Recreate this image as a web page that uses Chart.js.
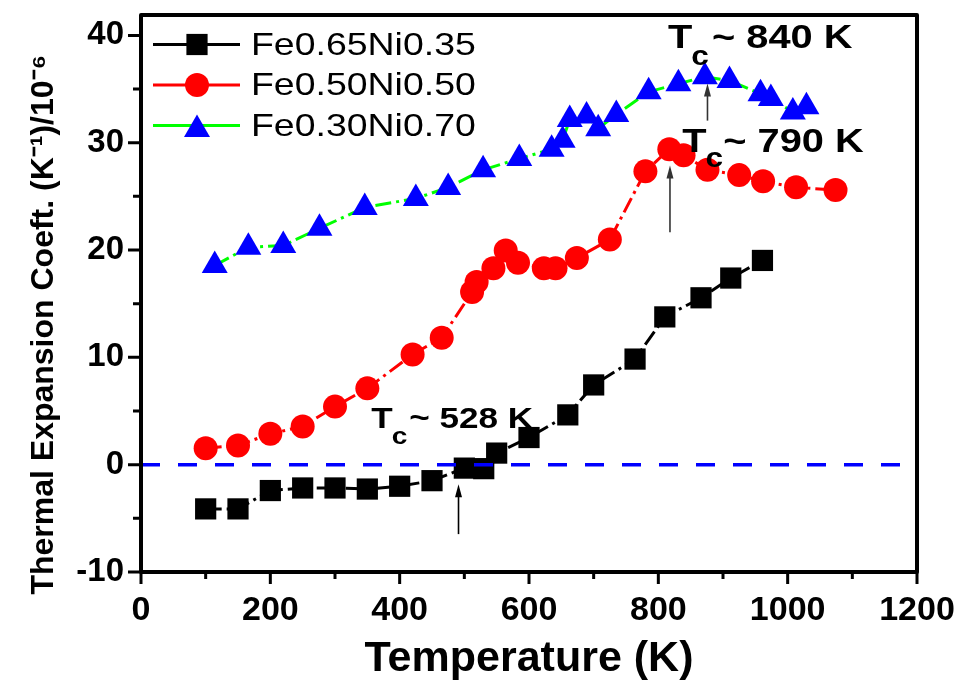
<!DOCTYPE html>
<html><head><meta charset="utf-8">
<script src="https://cdn.jsdelivr.net/npm/chart.js@4.4.1/dist/chart.umd.min.js"></script>
<style>html,body{margin:0;padding:0;background:#fff;}#wrap{width:962px;height:684px;}</style>
</head><body><div id="wrap"><canvas id="c" width="962" height="684"></canvas></div>
<script>
// ---- data ----
const seriesNames = ['Fe0.65Ni0.35', 'Fe0.50Ni0.50', 'Fe0.30Ni0.70'];
const tempA = [100,150,200,250,300,350,400,450,500,530,550,600,660,700,764,810,866,912,961];
const coefA = [-4.12,-4.12,-2.41,-2.17,-2.17,-2.27,-2.01,-1.49,-0.32,-0.37,1.08,2.53,4.64,7.43,9.84,13.77,15.55,17.39,19.03];
const tempB = [100,150,200,250,300,350,420,465,512,519,545,564,583,623,641,674,725,780,817,839,876,925,962,1013,1074];
const coefB = [1.54,1.79,2.88,3.56,5.41,7.11,10.27,11.82,16.09,17.02,18.31,19.96,18.81,18.31,18.31,19.25,20.98,27.33,29.40,28.84,27.48,26.98,26.40,25.84,25.59];
const tempC = [114,166,220,276,346,425,475,529,585,635,652,663,689,707,735,785,831,872,910,958,974,1008,1029];
const coefC = [18.56,20.26,20.42,22.02,23.97,24.81,25.83,27.47,28.52,29.39,30.22,32.17,32.49,31.31,32.64,34.74,35.49,36.14,35.79,34.56,34.12,32.86,33.35];
const zeroLineX = [0, 1200];
const zeroLineY = [0, 0];
const xTicks = [0,200,400,600,800,1000,1200];
const xMinorTicks = [100,300,500,700,900,1100];
const yTicks = [-10,0,10,20,30,40];
const yMinorTicks = [-5,5,15,25,35];
const tcNotes = ['528 K', '790 K', '840 K'];

// ---- annotation placement (data units) ----
const tcAnchor = [[356, 3.4], [837, 29.1], [815, 38.8]];
const arrowAnchor = [[491, -6.47, -1.83], [818, 21.66, 27.88], [876, 32.06, 35.52]];

const FONT = "'Liberation Sans', Arial, sans-serif";
const SX = 1.17;

function pts(xs, ys) { return xs.map((v, i) => ({x: v, y: ys[i]})); }

const colors = ['#000000', '#ff0000', '#0000ff'];
const lineColors = ['#000000', '#ff0000', '#00ff00'];
const styles = ['rect', 'circle', 'triangle'];
const radii = [15, 12, 15];
const dash = [16, 5, 3, 5];

function stretchText(ctx, t, x, y, font) {
  ctx.save();
  ctx.font = font;
  ctx.translate(x, y);
  ctx.scale(SX, 1);
  ctx.fillText(t, 0, 0);
  const w = ctx.measureText(t).width * SX;
  ctx.restore();
  return w;
}

function drawMarker(ctx, style, x, y, r, color) {
  ctx.save();
  ctx.fillStyle = color;
  ctx.beginPath();
  if (style === 'rect') {
    const s = Math.SQRT1_2 * r;
    ctx.rect(x - s, y - s, 2 * s, 2 * s);
  } else if (style === 'circle') {
    ctx.arc(x, y, r, 0, Math.PI * 2);
  } else {
    let rad = 0;
    ctx.moveTo(x + Math.sin(rad) * r, y - Math.cos(rad) * r);
    rad += 2 * Math.PI / 3;
    ctx.lineTo(x + Math.sin(rad) * r, y - Math.cos(rad) * r);
    rad += 2 * Math.PI / 3;
    ctx.lineTo(x + Math.sin(rad) * r, y - Math.cos(rad) * r);
    ctx.closePath();
  }
  ctx.fill();
  ctx.restore();
}

const decor = {
  id: 'decor',
  afterDraw(chart) {
    const {ctx, chartArea: a, scales: {x, y}} = chart;
    ctx.save();
    // frame
    ctx.strokeStyle = '#000';
    ctx.lineWidth = 4;
    ctx.lineJoin = 'round';
    ctx.strokeRect(a.left, a.top, a.right - a.left, a.bottom - a.top);
    // ticks
    ctx.lineWidth = 3;
    ctx.beginPath();
    yTicks.forEach(v => { const p = y.getPixelForValue(v); ctx.moveTo(a.left - 13, p); ctx.lineTo(a.left, p); });
    yMinorTicks.forEach(v => { const p = y.getPixelForValue(v); ctx.moveTo(a.left - 8, p); ctx.lineTo(a.left, p); });
    xTicks.forEach(v => { const p = x.getPixelForValue(v); ctx.moveTo(p, a.bottom); ctx.lineTo(p, a.bottom + 12); });
    xMinorTicks.forEach(v => { const p = x.getPixelForValue(v); ctx.moveTo(p, a.bottom); ctx.lineTo(p, a.bottom + 7); });
    ctx.stroke();

    // legend
    const rows = [a.top + 29.5, a.top + 70, a.top + 110.5];
    seriesNames.forEach((name, i) => {
      const ry = rows[i];
      ctx.strokeStyle = lineColors[i];
      ctx.lineWidth = 3;
      ctx.beginPath();
      ctx.moveTo(a.left + 12, ry); ctx.lineTo(a.left + 99, ry);
      ctx.stroke();
      drawMarker(ctx, styles[i], a.left + 56, i === 2 ? ry + 4 : ry, radii[i], colors[i]);
      ctx.fillStyle = '#000';
      ctx.textBaseline = 'alphabetic';
      ctx.textAlign = 'left';
      stretchText(ctx, name, a.left + 110, ry + 10, '32px ' + FONT);
    });

    // arrows
    arrowAnchor.forEach((ar, i) => {
      const px = x.getPixelForValue(ar[0]);
      const pb = y.getPixelForValue(ar[1]);
      const pt = y.getPixelForValue(ar[2]);
      const col = i === 0 ? '#000' : '#333';
      ctx.strokeStyle = col; ctx.fillStyle = col;
      ctx.lineWidth = 1.6;
      ctx.beginPath(); ctx.moveTo(px, pb); ctx.lineTo(px, pt + 10); ctx.stroke();
      ctx.beginPath(); ctx.moveTo(px, pt); ctx.lineTo(px - 3.5, pt + 13); ctx.lineTo(px + 3.5, pt + 13); ctx.closePath(); ctx.fill();
    });

    // Tc labels
    ctx.fillStyle = '#000';
    ctx.textBaseline = 'alphabetic';
    ctx.textAlign = 'left';
    const sizes = [30, 34, 34];
    const gaps = [38, 41, 44];
    const subDy = [16, 15, 17];
    tcNotes.forEach((t, i) => {
      const px = x.getPixelForValue(tcAnchor[i][0]);
      const py = y.getPixelForValue(tcAnchor[i][1]);
      const wT = stretchText(ctx, 'T', px, py, 'bold ' + sizes[i] + 'px ' + FONT);
      stretchText(ctx, 'c', px + wT - 1, py + subDy[i], 'bold ' + Math.round(sizes[i] * 0.8) + 'px ' + FONT);
      stretchText(ctx, '~ ' + t, px + gaps[i], py, 'bold ' + sizes[i] + 'px ' + FONT);
    });
    ctx.restore();
  }
};

Chart.defaults.font.family = FONT;
Chart.defaults.color = '#000';

const mkSet = (i, xs, ys) => ({
  label: seriesNames[i],
  data: pts(xs, ys),
  showLine: true,
  borderColor: lineColors[i],
  borderWidth: 3,
  borderDash: dash,
  pointStyle: styles[i],
  pointRadius: radii[i],
  pointHoverRadius: radii[i],
  pointBackgroundColor: colors[i],
  pointBorderColor: colors[i],
  pointBorderWidth: 0,
  order: 3 - i
});

new Chart(document.getElementById('c'), {
  type: 'scatter',
  data: {
    datasets: [
      mkSet(0, tempA, coefA),
      mkSet(1, tempB, coefB),
      mkSet(2, tempC, coefC),
      {label: 'zero', data: pts(zeroLineX, zeroLineY), showLine: true, borderColor: '#0000ff',
       borderWidth: 3.5, borderDash: [19, 18], pointRadius: 0, order: 0}
    ]
  },
  options: {
    responsive: false,
    animation: false,
    devicePixelRatio: 1,
    layout: {padding: {top: 12, right: 45, left: 0, bottom: 0}},
    plugins: {legend: {display: false}, tooltip: {enabled: false}},
    scales: {
      x: {
        type: 'linear', min: 0, max: 1200,
        afterBuildTicks: s => { s.ticks = xTicks.map(v => ({value: v})); },
        afterFit: s => { s.height = 112; s.paddingLeft = 0; s.paddingRight = 0; },
        grid: {display: false, drawTicks: false},
        border: {display: false},
        ticks: {color: '#000', font: {size: 34, weight: 'bold'}, padding: 18, maxRotation: 0, autoSkip: false,
                callback: v => String(v)},
        title: {display: true, text: 'Temperature (K)', color: '#000',
                font: {size: 43, weight: 'bold', lineHeight: 1}, padding: {top: 0, bottom: 3}}
      },
      y: {
        type: 'linear', min: -10, max: 41.9,
        afterBuildTicks: s => { s.ticks = yTicks.map(v => ({value: v})); },
        afterFit: s => { s.width = 141; s.paddingTop = 0; s.paddingBottom = 0; },
        grid: {display: false, drawTicks: false},
        border: {display: false},
        ticks: {color: '#000', font: {size: 33, weight: 'bold'}, padding: 17, autoSkip: false,
                callback: v => String(v)},
        title: {display: true, text: 'Thermal Expansion Coeft. (K\u207B\u00B9)/10\u207B\u2076\u00A0\u00A0\u00A0\u00A0\u00A0\u00A0\u00A0', color: '#000',
                font: {size: 32, weight: 'bold', lineHeight: 1}, padding: {top: 28, bottom: 0}}
      }
    }
  },
  plugins: [decor]
});
</script>
</body></html>
